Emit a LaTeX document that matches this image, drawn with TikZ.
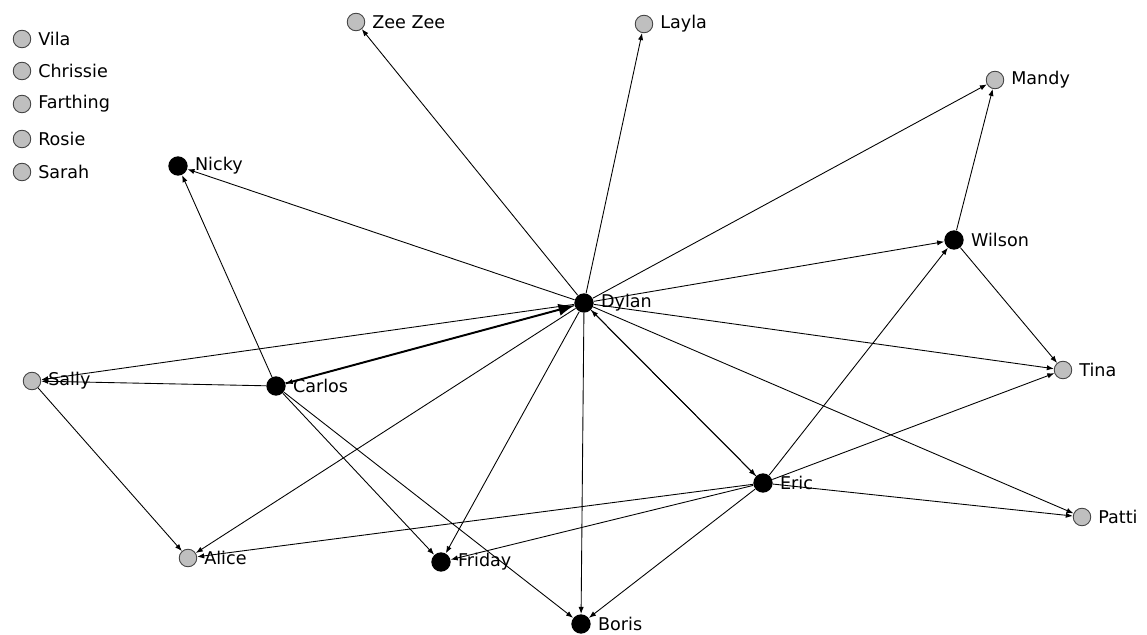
\documentclass[tikz,border=0pt]{standalone}
\usepackage{fontspec}
\setmainfont{DejaVu Sans}
\usetikzlibrary{arrows.meta}

\tikzset{
  tie/.style={draw=black, line width=0.5pt, -{Latex[length=4pt,width=3pt]}},
  strong/.style={draw=black, line width=1.1pt, -{Latex[length=9pt,width=7pt]}},
  actor/.style={circle, fill=black, inner sep=0pt, minimum size=11pt,
    label={[label distance=0.5pt, font=\fontsize{10}{12}\selectfont]right:#1}},
  loner/.style={circle, draw=black!75, line width=0.5pt, fill=gray!50, inner sep=0pt, minimum size=10pt,
    label={[label distance=0.5pt, font=\fontsize{10}{12}\selectfont]right:#1}}
}

\begin{document}
\begin{tikzpicture}[x=0.02cm, y=-0.02cm]
\useasboundingbox (0,0) rectangle (1147,635);
% isolates
\node[loner=Vila] (vila) at (22, 39) {};
\node[loner=Chrissie] (chrissie) at (22, 71) {};
\node[loner=Farthing] (farthing) at (22, 104) {};
\node[loner=Rosie] (rosie) at (22, 139) {};
\node[loner=Sarah] (sarah) at (22, 172) {};
% network
\node[loner=Zee Zee] (zeezee) at (356, 22) {};
\node[loner=Layla] (layla) at (644, 24) {};
\node[loner=Mandy] (mandy) at (995, 80) {};
\node[actor=Nicky] (nicky) at (178, 166) {};
\node[actor=Wilson] (wilson) at (954, 240) {};
\node[actor=Dylan] (dylan) at (584, 303) {};
\node[loner=Sally] (sally) at (32, 381) {};
\node[actor=Carlos] (carlos) at (276, 386) {};
\node[loner=Tina] (tina) at (1063, 370) {};
\node[actor=Eric] (eric) at (763, 483) {};
\node[loner=Patti] (patti) at (1082, 517) {};
\node[loner=Alice] (alice) at (188, 558) {};
\node[actor=Friday] (friday) at (441, 562) {};
\node[actor=Boris] (boris) at (581, 624) {};
% ties from Dylan
\foreach \t in {zeezee, layla, mandy, nicky, wilson, tina, patti, eric, boris, friday, alice, sally, carlos}
  \draw[tie] (dylan) -- (\t);
% ties from Eric
\foreach \t in {dylan, wilson, tina, patti, boris, friday, alice}
  \draw[tie] (eric) -- (\t);
% ties from Carlos
\foreach \t in {sally, nicky, friday, boris}
  \draw[tie] (carlos) -- (\t);
\draw[strong] (carlos) -- (dylan);
\draw[tie] (sally) -- (alice);
\draw[tie] (wilson) -- (mandy);
\draw[tie] (wilson) -- (tina);
\end{tikzpicture}
\end{document}
